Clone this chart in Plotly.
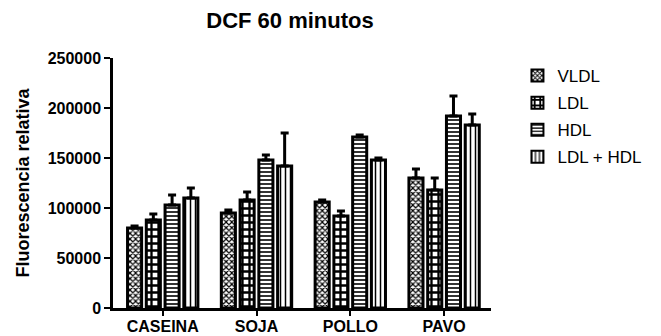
import plotly.graph_objects as go

categories = ["CASEINA", "SOJA", "POLLO", "PAVO"]
series_names = ["VLDL", "LDL", "HDL", "LDL + HDL"]
vldl = [80000, 95000, 106000, 130000]
ldl = [88000, 108000, 92000, 118000]
hdl = [103000, 148000, 171000, 192000]
ldl_hdl = [110000, 142000, 148000, 183000]
vldl_err = [2000, 3000, 2000, 9000]
ldl_err = [6000, 8000, 5000, 12000]
hdl_err = [10000, 5000, 2000, 20000]
ldl_hdl_err = [10000, 33000, 2000, 11000]
y_ticks = [0, 50000, 100000, 150000, 200000, 250000]

values = [vldl, ldl, hdl, ldl_hdl]
errors = [vldl_err, ldl_err, hdl_err, ldl_hdl_err]
patterns = [
    dict(shape="x", size=4, solidity=0.5),
    dict(shape="+", size=7, solidity=0.55),
    dict(shape="-", size=4, solidity=0.4),
    dict(shape="|", size=5, solidity=0.3),
]

fig = go.Figure()
for name, v, e, p in zip(series_names, values, errors, patterns):
    fig.add_trace(go.Bar(
        name=name, x=categories, y=v, legendgroup=name,
        marker=dict(color="white", line=dict(color="black", width=3),
                    pattern=dict(fgcolor="black", bgcolor="white", fillmode="replace", **p)),
        error_y=dict(type="data", array=e, arrayminus=[0] * len(e), symmetric=False,
                     color="black", thickness=3, width=4),
    ))

font = "Liberation Sans, Arial, sans-serif"
fig.update_layout(
    width=661, height=336,
    barmode="group", bargap=0.2, bargroupgap=0.25,
    plot_bgcolor="white", paper_bgcolor="white",
    margin=dict(l=113, r=170, t=58, b=28),
    title=dict(text="<b>DCF 60 minutos</b>", x=290 / 661, xanchor="center", y=1 - 20 / 336, yanchor="middle",
               font=dict(family=font, size=22, color="black")),
    font=dict(family=font, color="black"),
    legend=dict(x=1.07, y=1.0, xanchor="left", yanchor="top",
                font=dict(family=font, size=17, color="black"),
                tracegroupgap=2, itemsizing="constant"),
    xaxis=dict(range=[-0.53, 3.5], showline=True, linecolor="black", linewidth=2.5,
               ticks="outside", ticklen=5, tickwidth=2, tickcolor="black", automargin=False,
               ticklabelstandoff=-3,
               tickfont=dict(family=font, size=16, color="black"),
               tickvals=categories, ticktext=["<b>%s</b>" % c for c in categories],
               showgrid=False, zeroline=False),
    yaxis=dict(range=[0, 250000], showline=True, linecolor="black", linewidth=2.5,
               ticks="outside", ticklen=6, tickwidth=2, tickcolor="black", automargin=False,
               tickvals=y_ticks, ticktext=["<b>%d</b>" % t for t in y_ticks],
               tickfont=dict(family=font, size=16, color="black"),
               title=dict(text="<b>Fluorescencia relativa</b>", font=dict(family=font, size=18, color="black"),
                          standoff=14),
               showgrid=False, zeroline=False),
)
fig.write_html("out.html", config={"displayModeBar": False})

with open("out.html", encoding="utf-8") as f:
    html = f.read()
html = html.replace("<head>", "<head><style>html,body{margin:0;padding:0;overflow:hidden;}</style>", 1)
with open("out.html", "w", encoding="utf-8") as f:
    f.write(html)
